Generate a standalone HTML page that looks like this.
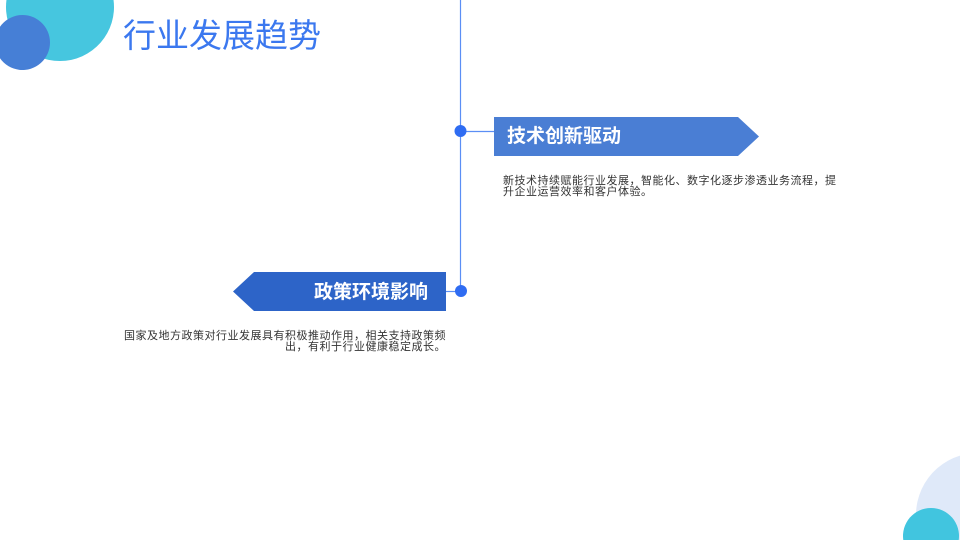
<!DOCTYPE html>
<html><head><meta charset="utf-8"><style>
html,body{margin:0;padding:0;width:960px;height:540px;overflow:hidden;background:#fff}
#w{position:relative;width:960px;height:540px;overflow:hidden;font-family:"Liberation Sans","Noto Sans CJK SC",sans-serif}
.a{position:absolute;white-space:nowrap}
.t{font-size:11px;color:#333;line-height:11px}
</style></head><body><div id="w">
<svg class="a" style="left:0;top:0" width="960" height="540" viewBox="0 0 960 540">
<path d="M113.54,0 A54,54 0 1 1 6.46,0 Z" fill="#46c6df"/>
<path d="M0,26.69 A27.5,27.5 0 1 1 0,58.31 Z" fill="#467fd6"/>
<path d="M960,455.67 A62,62 0 0 0 921.26,540 L960,540 Z" fill="#dfe9f9"/>
<path d="M903.29,540 A28,28 0 1 1 958.71,540 Z" fill="#41c5df"/>
<line x1="460.5" y1="0" x2="460.5" y2="291" stroke="#5b8ef5" stroke-width="1.2"/>
<line x1="460" y1="131.5" x2="494" y2="131.5" stroke="#5b8ef5" stroke-width="1.2"/>
<line x1="446" y1="291.5" x2="461" y2="291.5" stroke="#5b8ef5" stroke-width="1.2"/>
<circle cx="460.5" cy="131" r="6" fill="#2f6cf2"/>
<circle cx="461" cy="291" r="6" fill="#2f6cf2"/>
<polygon points="494,117 738,117 759,136.5 738,156 494,156" fill="#4a7ed4"/>
<polygon points="446,272 254,272 233,291.5 254,311 446,311" fill="#2d64c8"/>
</svg>
<div class="a" style="left:123px;top:14px;font-size:33px;color:#3b78ef;line-height:44px">行业发展趋势</div>
<div class="a" style="left:507px;top:124px;font-size:19px;font-weight:bold;color:#fff;line-height:26px">技术创新驱动</div>
<div class="a" style="left:314px;top:280px;font-size:19px;font-weight:bold;color:#fff;line-height:26px">政策环境影响</div>
<div class="a t" style="left:503px;top:176px;letter-spacing:0.5px">新技术持续赋能行业发展，智能化、数字化逐步渗透业务流程，提<br>升企业运营效率和客户体验。</div>
<div class="a t" style="right:514px;top:331px;text-align:right;letter-spacing:0.5px">国家及地方政策对行业发展具有积极推动作用，相关支持政策频<br>出，有利于行业健康稳定成长。</div>
</div></body></html>
